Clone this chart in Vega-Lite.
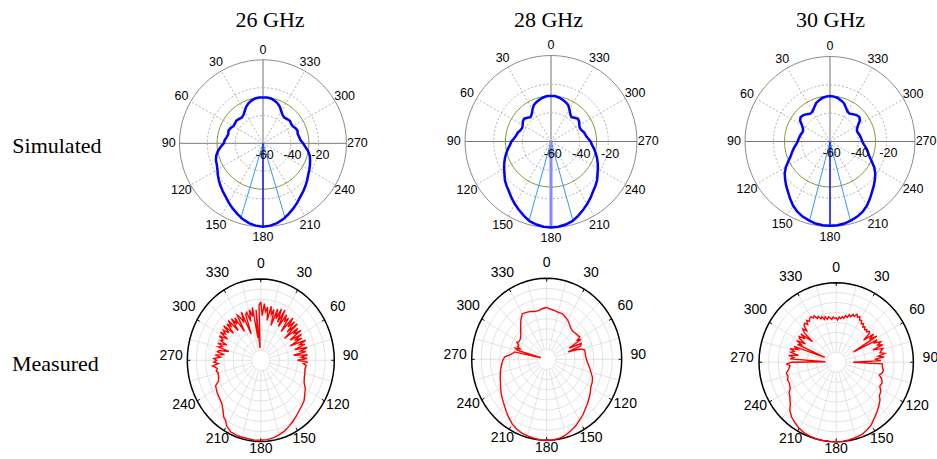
{
"$schema": "https://vega.github.io/schema/vega-lite/v6.json",
"padding": 0,
"spacing": 0,
"bounds": "flush",
"columns": 3,
"config": {"view": {"stroke": null}, "concat": {"spacing": 0}},
"datasets": {
"circ": [{"a":0},{"a":5},{"a":10},{"a":15},{"a":20},{"a":25},{"a":30},{"a":35},{"a":40},{"a":45},{"a":50},{"a":55},{"a":60},{"a":65},{"a":70},{"a":75},{"a":80},{"a":85},{"a":90},{"a":95},{"a":100},{"a":105},{"a":110},{"a":115},{"a":120},{"a":125},{"a":130},{"a":135},{"a":140},{"a":145},{"a":150},{"a":155},{"a":160},{"a":165},{"a":170},{"a":175},{"a":180},{"a":185},{"a":190},{"a":195},{"a":200},{"a":205},{"a":210},{"a":215},{"a":220},{"a":225},{"a":230},{"a":235},{"a":240},{"a":245},{"a":250},{"a":255},{"a":260},{"a":265},{"a":270},{"a":275},{"a":280},{"a":285},{"a":290},{"a":295},{"a":300},{"a":305},{"a":310},{"a":315},{"a":320},{"a":325},{"a":330},{"a":335},{"a":340},{"a":345},{"a":350},{"a":355},{"a":360}],
"lab": [{"a":0},{"a":30},{"a":60},{"a":90},{"a":120},{"a":150},{"a":180},{"a":210},{"a":240},{"a":270},{"a":300},{"a":330}],
"spm": [{"a":0},{"a":15},{"a":30},{"a":45},{"a":60},{"a":75},{"a":90},{"a":105},{"a":120},{"a":135},{"a":150},{"a":165},{"a":180},{"a":195},{"a":210},{"a":225},{"a":240},{"a":255},{"a":270},{"a":285},{"a":300},{"a":315},{"a":330},{"a":345}],
"s26": [{"a":0,"g":-27},{"a":5,"g":-27},{"a":10,"g":-27.3},{"a":15,"g":-28.2},{"a":20,"g":-29.4},{"a":25,"g":-31.2},{"a":30,"g":-33.6},{"a":35,"g":-35.4},{"a":40,"g":-36},{"a":45,"g":-35.4},{"a":50,"g":-34.8},{"a":55,"g":-35.4},{"a":60,"g":-35.4},{"a":65,"g":-34.2},{"a":70,"g":-33.6},{"a":75,"g":-34.2},{"a":80,"g":-33.6},{"a":85,"g":-32.4},{"a":90,"g":-31.8},{"a":95,"g":-29.4},{"a":100,"g":-27},{"a":105,"g":-25.2},{"a":110,"g":-24},{"a":115,"g":-23.4},{"a":120,"g":-22.2},{"a":125,"g":-20.4},{"a":130,"g":-18.6},{"a":135,"g":-16.8},{"a":140,"g":-15},{"a":145,"g":-13.2},{"a":150,"g":-10.8},{"a":155,"g":-8.4},{"a":160,"g":-6},{"a":165,"g":-3.6},{"a":170,"g":-1.8},{"a":175,"g":-0.6},{"a":180,"g":0},{"a":185,"g":-0.6},{"a":190,"g":-1.8},{"a":195,"g":-3.6},{"a":200,"g":-6},{"a":205,"g":-8.4},{"a":210,"g":-10.8},{"a":215,"g":-13.2},{"a":220,"g":-15},{"a":225,"g":-16.8},{"a":230,"g":-18.6},{"a":235,"g":-20.4},{"a":240,"g":-21.6},{"a":245,"g":-22.8},{"a":250,"g":-24},{"a":255,"g":-25.2},{"a":260,"g":-27},{"a":265,"g":-29.4},{"a":270,"g":-31.2},{"a":275,"g":-33},{"a":280,"g":-33.6},{"a":285,"g":-34.2},{"a":290,"g":-33.6},{"a":295,"g":-34.2},{"a":300,"g":-35.4},{"a":305,"g":-35.4},{"a":310,"g":-34.8},{"a":315,"g":-35.4},{"a":320,"g":-36},{"a":325,"g":-35.4},{"a":330,"g":-33.6},{"a":335,"g":-31.2},{"a":340,"g":-29.4},{"a":345,"g":-28.2},{"a":350,"g":-27.3},{"a":355,"g":-27},{"a":360,"g":-27}],
"s28": [{"a":0,"g":-28.2},{"a":5,"g":-28.2},{"a":10,"g":-28.8},{"a":15,"g":-29.7},{"a":20,"g":-30.6},{"a":25,"g":-31.8},{"a":30,"g":-34.2},{"a":35,"g":-36.6},{"a":40,"g":-37.8},{"a":45,"g":-36.6},{"a":50,"g":-35.4},{"a":55,"g":-36},{"a":60,"g":-37.2},{"a":65,"g":-37.8},{"a":70,"g":-37.2},{"a":75,"g":-36},{"a":80,"g":-35.4},{"a":85,"g":-34.2},{"a":90,"g":-32.4},{"a":95,"g":-31.2},{"a":100,"g":-29.4},{"a":105,"g":-27.6},{"a":110,"g":-25.8},{"a":115,"g":-24},{"a":120,"g":-22.2},{"a":125,"g":-20.4},{"a":130,"g":-18},{"a":135,"g":-16.2},{"a":140,"g":-14.4},{"a":145,"g":-12},{"a":150,"g":-9.6},{"a":155,"g":-7.2},{"a":160,"g":-4.8},{"a":165,"g":-2.4},{"a":170,"g":-1.2},{"a":175,"g":-0.3},{"a":180,"g":0},{"a":185,"g":-0.3},{"a":190,"g":-1.2},{"a":195,"g":-2.4},{"a":200,"g":-4.8},{"a":205,"g":-7.2},{"a":210,"g":-9.6},{"a":215,"g":-12},{"a":220,"g":-14.4},{"a":225,"g":-16.2},{"a":230,"g":-18},{"a":235,"g":-20.4},{"a":240,"g":-22.2},{"a":245,"g":-24},{"a":250,"g":-25.8},{"a":255,"g":-27.6},{"a":260,"g":-29.4},{"a":265,"g":-31.2},{"a":270,"g":-32.4},{"a":275,"g":-34.2},{"a":280,"g":-35.4},{"a":285,"g":-36},{"a":290,"g":-37.2},{"a":295,"g":-37.8},{"a":300,"g":-37.2},{"a":305,"g":-36},{"a":310,"g":-35.4},{"a":315,"g":-36.6},{"a":320,"g":-37.8},{"a":325,"g":-36.6},{"a":330,"g":-34.2},{"a":335,"g":-31.8},{"a":340,"g":-30.6},{"a":345,"g":-29.7},{"a":350,"g":-28.8},{"a":355,"g":-28.2},{"a":360,"g":-28.2}],
"s30": [{"a":0,"g":-27.9},{"a":5,"g":-28.2},{"a":10,"g":-28.8},{"a":15,"g":-30},{"a":20,"g":-31.2},{"a":25,"g":-33.6},{"a":30,"g":-35.4},{"a":35,"g":-36},{"a":40,"g":-34.8},{"a":45,"g":-33.6},{"a":50,"g":-33},{"a":55,"g":-34.2},{"a":60,"g":-37.2},{"a":65,"g":-39},{"a":70,"g":-39.6},{"a":75,"g":-39},{"a":80,"g":-38.4},{"a":85,"g":-37.8},{"a":90,"g":-37.2},{"a":95,"g":-36},{"a":100,"g":-34.2},{"a":105,"g":-32.4},{"a":110,"g":-30.6},{"a":115,"g":-27.6},{"a":120,"g":-24},{"a":125,"g":-21},{"a":130,"g":-18.6},{"a":135,"g":-16.2},{"a":140,"g":-13.8},{"a":145,"g":-10.8},{"a":150,"g":-7.8},{"a":155,"g":-5.4},{"a":160,"g":-3.6},{"a":165,"g":-2.4},{"a":170,"g":-1.2},{"a":175,"g":-0.6},{"a":180,"g":-0.6},{"a":185,"g":-0.6},{"a":190,"g":-1.2},{"a":195,"g":-2.4},{"a":200,"g":-3.6},{"a":205,"g":-5.4},{"a":210,"g":-7.8},{"a":215,"g":-10.8},{"a":220,"g":-13.8},{"a":225,"g":-16.2},{"a":230,"g":-18.6},{"a":235,"g":-21},{"a":240,"g":-24},{"a":245,"g":-27.6},{"a":250,"g":-30.6},{"a":255,"g":-32.4},{"a":260,"g":-34.2},{"a":265,"g":-36},{"a":270,"g":-37.2},{"a":275,"g":-37.8},{"a":280,"g":-38.4},{"a":285,"g":-39},{"a":290,"g":-39.6},{"a":295,"g":-39},{"a":300,"g":-37.2},{"a":305,"g":-34.2},{"a":310,"g":-33},{"a":315,"g":-33.6},{"a":320,"g":-34.8},{"a":325,"g":-36},{"a":330,"g":-35.4},{"a":335,"g":-33.6},{"a":340,"g":-31.2},{"a":345,"g":-30},{"a":350,"g":-28.8},{"a":355,"g":-28.2},{"a":360,"g":-27.9}],
"m26": [{"a":0,"g":-11.2},{"a":2,"g":-18},{"a":4,"g":-12},{"a":6,"g":-16},{"a":8,"g":-13.6},{"a":10,"g":-20},{"a":12,"g":-12.8},{"a":14,"g":-16.8},{"a":16,"g":-14},{"a":18,"g":-22},{"a":20,"g":-13.2},{"a":22,"g":-18},{"a":24,"g":-12.4},{"a":26,"g":-19.2},{"a":28,"g":-12},{"a":30,"g":-20.8},{"a":32,"g":-13.6},{"a":34,"g":-16.8},{"a":36,"g":-14.4},{"a":38,"g":-22},{"a":40,"g":-12.8},{"a":42,"g":-18},{"a":44,"g":-13.6},{"a":46,"g":-20},{"a":48,"g":-13.2},{"a":50,"g":-23.2},{"a":52,"g":-14.4},{"a":54,"g":-18},{"a":56,"g":-13.6},{"a":58,"g":-21.2},{"a":60,"g":-14.4},{"a":62,"g":-19.2},{"a":64,"g":-15.2},{"a":66,"g":-22.4},{"a":68,"g":-13.6},{"a":70,"g":-17.6},{"a":72,"g":-14.8},{"a":74,"g":-20.8},{"a":76,"g":-14},{"a":78,"g":-18},{"a":80,"g":-15.2},{"a":82,"g":-22},{"a":84,"g":-14.4},{"a":86,"g":-18},{"a":88,"g":-14.8},{"a":90,"g":-20},{"a":92,"g":-14.4},{"a":94,"g":-16.8},{"a":96,"g":-15.2},{"a":100,"g":-15.6},{"a":105,"g":-15.2},{"a":110,"g":-14.8},{"a":115,"g":-14},{"a":120,"g":-12},{"a":125,"g":-10.8},{"a":130,"g":-9.2},{"a":135,"g":-8.4},{"a":140,"g":-7.6},{"a":145,"g":-6.4},{"a":150,"g":-5.2},{"a":155,"g":-4},{"a":160,"g":-2.8},{"a":165,"g":-2},{"a":170,"g":-1.2},{"a":175,"g":-0.8},{"a":180,"g":-0.8},{"a":185,"g":-0.6},{"a":190,"g":-0.8},{"a":195,"g":-0.8},{"a":200,"g":-0.8},{"a":205,"g":-1.2},{"a":210,"g":-2.8},{"a":213,"g":-4.8},{"a":216,"g":-5.6},{"a":220,"g":-8},{"a":225,"g":-10},{"a":230,"g":-10.8},{"a":235,"g":-11.2},{"a":240,"g":-12},{"a":243,"g":-12.4},{"a":246,"g":-14.8},{"a":250,"g":-15.6},{"a":255,"g":-16},{"a":258,"g":-15.2},{"a":260,"g":-16},{"a":262,"g":-15.2},{"a":264,"g":-13.6},{"a":266,"g":-16.8},{"a":268,"g":-14.4},{"a":270,"g":-16},{"a":272,"g":-14.4},{"a":274,"g":-18},{"a":276,"g":-15.2},{"a":278,"g":-20},{"a":280,"g":-16},{"a":282,"g":-16.8},{"a":284,"g":-22},{"a":286,"g":-16},{"a":288,"g":-18},{"a":290,"g":-15.2},{"a":292,"g":-20},{"a":294,"g":-16},{"a":296,"g":-17.2},{"a":298,"g":-14.4},{"a":300,"g":-19.2},{"a":302,"g":-14},{"a":304,"g":-16.8},{"a":306,"g":-14.8},{"a":308,"g":-18},{"a":310,"g":-13.6},{"a":312,"g":-20},{"a":314,"g":-14.4},{"a":316,"g":-16.8},{"a":318,"g":-13.6},{"a":320,"g":-20.8},{"a":322,"g":-14},{"a":324,"g":-18},{"a":326,"g":-14.8},{"a":328,"g":-23.2},{"a":330,"g":-14.4},{"a":332,"g":-16},{"a":334,"g":-19.2},{"a":336,"g":-14},{"a":338,"g":-26},{"a":340,"g":-16},{"a":342,"g":-15.2},{"a":344,"g":-20},{"a":346,"g":-14.4},{"a":348,"g":-18},{"a":350,"g":-13.6},{"a":352,"g":-28.8},{"a":354,"g":-15.2},{"a":356,"g":-34},{"a":358,"g":-12.8},{"a":360,"g":-11.2}],
"m28": [{"a":0,"g":-14.4},{"a":5,"g":-15.2},{"a":10,"g":-15.6},{"a":15,"g":-16},{"a":20,"g":-16},{"a":25,"g":-16.8},{"a":30,"g":-17.6},{"a":35,"g":-18.8},{"a":40,"g":-20},{"a":45,"g":-20.4},{"a":50,"g":-20},{"a":55,"g":-19.6},{"a":58,"g":-19.2},{"a":60,"g":-21.2},{"a":62,"g":-19.2},{"a":65,"g":-26.8},{"a":67,"g":-20},{"a":70,"g":-20.8},{"a":72,"g":-28},{"a":74,"g":-21.6},{"a":77,"g":-19.2},{"a":80,"g":-19.2},{"a":85,"g":-19.2},{"a":90,"g":-18.8},{"a":95,"g":-18},{"a":100,"g":-16.8},{"a":105,"g":-15.6},{"a":110,"g":-14},{"a":115,"g":-13.2},{"a":120,"g":-12.8},{"a":125,"g":-11.6},{"a":130,"g":-10.4},{"a":135,"g":-9.2},{"a":140,"g":-8},{"a":145,"g":-6.4},{"a":150,"g":-5.2},{"a":155,"g":-3.6},{"a":160,"g":-2.4},{"a":165,"g":-1.2},{"a":170,"g":-0.4},{"a":175,"g":0},{"a":180,"g":0},{"a":185,"g":0},{"a":190,"g":-0.4},{"a":195,"g":-0.8},{"a":200,"g":-1.2},{"a":205,"g":-2},{"a":210,"g":-3.2},{"a":215,"g":-4.8},{"a":220,"g":-6.4},{"a":225,"g":-8},{"a":230,"g":-9.2},{"a":235,"g":-10.4},{"a":240,"g":-11.6},{"a":245,"g":-12.8},{"a":250,"g":-13.6},{"a":255,"g":-14.4},{"a":260,"g":-15.2},{"a":265,"g":-16},{"a":270,"g":-16.8},{"a":273,"g":-17.6},{"a":276,"g":-20},{"a":279,"g":-21.6},{"a":282,"g":-22.4},{"a":284,"g":-36.8},{"a":286,"g":-24},{"a":288,"g":-22.4},{"a":290,"g":-24.8},{"a":292,"g":-23.2},{"a":295,"g":-23.6},{"a":298,"g":-22},{"a":300,"g":-22.8},{"a":305,"g":-22.8},{"a":310,"g":-22},{"a":315,"g":-20.4},{"a":320,"g":-18.4},{"a":325,"g":-16},{"a":330,"g":-14},{"a":335,"g":-14.4},{"a":340,"g":-14.8},{"a":345,"g":-15.6},{"a":350,"g":-15.6},{"a":355,"g":-14.8},{"a":360,"g":-14.4}],
"m30": [{"a":0,"g":-17.6},{"a":2,"g":-18.8},{"a":4,"g":-17.2},{"a":6,"g":-18},{"a":8,"g":-16.8},{"a":10,"g":-17.6},{"a":12,"g":-16},{"a":14,"g":-16.8},{"a":16,"g":-15.2},{"a":18,"g":-16},{"a":20,"g":-14.4},{"a":22,"g":-15.2},{"a":24,"g":-13.6},{"a":26,"g":-14.8},{"a":28,"g":-14},{"a":30,"g":-15.6},{"a":32,"g":-15.2},{"a":34,"g":-16.8},{"a":36,"g":-16},{"a":38,"g":-17.6},{"a":40,"g":-16.8},{"a":42,"g":-18},{"a":44,"g":-17.2},{"a":46,"g":-18},{"a":48,"g":-16.8},{"a":50,"g":-17.6},{"a":52,"g":-22},{"a":54,"g":-16},{"a":56,"g":-19.2},{"a":58,"g":-15.2},{"a":60,"g":-29.6},{"a":62,"g":-16},{"a":64,"g":-18},{"a":66,"g":-14.8},{"a":68,"g":-16.8},{"a":70,"g":-14.4},{"a":72,"g":-20},{"a":74,"g":-14.8},{"a":76,"g":-16},{"a":78,"g":-16.8},{"a":80,"g":-14.4},{"a":82,"g":-18},{"a":84,"g":-15.2},{"a":86,"g":-20},{"a":88,"g":-16.8},{"a":90,"g":-31.2},{"a":92,"g":-16},{"a":95,"g":-16},{"a":100,"g":-15.2},{"a":103,"g":-15.6},{"a":106,"g":-16.8},{"a":110,"g":-14.8},{"a":114,"g":-14},{"a":118,"g":-14.4},{"a":122,"g":-12.8},{"a":124,"g":-12.4},{"a":127,"g":-12},{"a":130,"g":-10.4},{"a":135,"g":-8.8},{"a":140,"g":-7.2},{"a":145,"g":-5.6},{"a":150,"g":-3.6},{"a":155,"g":-2.4},{"a":160,"g":-1.2},{"a":165,"g":-0.8},{"a":170,"g":-0.4},{"a":175,"g":0},{"a":180,"g":0},{"a":185,"g":0},{"a":190,"g":0},{"a":195,"g":0},{"a":200,"g":-0.4},{"a":205,"g":-0.8},{"a":210,"g":-1.6},{"a":215,"g":-2.8},{"a":220,"g":-4},{"a":225,"g":-6},{"a":228,"g":-8},{"a":231,"g":-9.2},{"a":234,"g":-10.4},{"a":238,"g":-11.2},{"a":241,"g":-12.8},{"a":244,"g":-13.2},{"a":247,"g":-13.6},{"a":250,"g":-13.2},{"a":254,"g":-14},{"a":258,"g":-13.6},{"a":262,"g":-15.2},{"a":266,"g":-16},{"a":268,"g":-14.4},{"a":270,"g":-16.8},{"a":272,"g":-34.4},{"a":274,"g":-16},{"a":276,"g":-18},{"a":278,"g":-15.2},{"a":280,"g":-20},{"a":282,"g":-16},{"a":284,"g":-17.6},{"a":286,"g":-15.2},{"a":288,"g":-19.2},{"a":290,"g":-16.8},{"a":292,"g":-33.6},{"a":294,"g":-18},{"a":296,"g":-20},{"a":298,"g":-16.8},{"a":300,"g":-21.6},{"a":302,"g":-17.6},{"a":304,"g":-16.8},{"a":306,"g":-20},{"a":308,"g":-16.8},{"a":310,"g":-24},{"a":312,"g":-17.6},{"a":314,"g":-16},{"a":316,"g":-18},{"a":318,"g":-15.2},{"a":320,"g":-14.4},{"a":322,"g":-16},{"a":324,"g":-14},{"a":326,"g":-15.2},{"a":328,"g":-14},{"a":330,"g":-13.6},{"a":332,"g":-14.8},{"a":334,"g":-14},{"a":336,"g":-16},{"a":338,"g":-15.2},{"a":340,"g":-16.8},{"a":342,"g":-16},{"a":344,"g":-17.6},{"a":346,"g":-16.4},{"a":348,"g":-18},{"a":350,"g":-16.8},{"a":352,"g":-17.6},{"a":354,"g":-18.4},{"a":356,"g":-17.2},{"a":358,"g":-18},{"a":360,"g":-17.6}]
},
"concat": [
{"width": 405, "height": 250,
 "encoding": {"x": {"field": "x", "type": "quantitative", "axis": null, "scale": {"domain": [-3.1497, 1.7006], "nice": false, "zero": false}},
              "y": {"field": "y", "type": "quantitative", "axis": null, "scale": {"domain": [-1.2778, 1.7162], "nice": false, "zero": false}}},
 "layer": [
  {"data": {"name": "lab"}, "transform": [{"filter": "datum.a % 90 != 0"}, {"calculate": "0", "as": "x"}, {"calculate": "0", "as": "y"}, {"calculate": "-sin(datum.a*PI/180)", "as": "x2"}, {"calculate": "cos(datum.a*PI/180)", "as": "y2"}], "mark": {"type": "rule", "color": "#a0a0a0", "strokeWidth": 0.8, "strokeDash": [2, 2]}, "encoding": {"x2": {"field": "x2"}, "y2": {"field": "y2"}}},
  {"data": {"name": "circ"}, "transform": [{"calculate": "[-40, -20]", "as": "lv"}, {"flatten": ["lv"]}, {"calculate": "(datum.lv+60)/60*sin(datum.a*PI/180)", "as": "x"}, {"calculate": "(datum.lv+60)/60*cos(datum.a*PI/180)", "as": "y"}], "mark": {"type": "line", "color": "#a0a0a0", "strokeWidth": 0.8, "strokeDash": [2, 2]}, "encoding": {"detail": {"field": "lv", "type": "nominal"}, "order": {"field": "a", "type": "quantitative"}}},
  {"data": {"name": "lab"}, "transform": [{"filter": "datum.a % 90 == 0 && datum.a != 0"}, {"calculate": "0", "as": "x"}, {"calculate": "0", "as": "y"}, {"calculate": "-sin(datum.a*PI/180)", "as": "x2"}, {"calculate": "cos(datum.a*PI/180)", "as": "y2"}], "mark": {"type": "rule", "color": "#7a7a7a", "strokeWidth": 1}, "encoding": {"x2": {"field": "x2"}, "y2": {"field": "y2"}}},
  {"data": {"name": "lab"}, "transform": [{"filter": "datum.a == 0"}, {"calculate": "0", "as": "x"}, {"calculate": "0", "as": "y"}, {"calculate": "-sin(datum.a*PI/180)", "as": "x2"}, {"calculate": "cos(datum.a*PI/180)", "as": "y2"}], "mark": {"type": "rule", "color": "#b8b8b8", "strokeWidth": 2}, "encoding": {"x2": {"field": "x2"}, "y2": {"field": "y2"}}},
  {"data": {"name": "circ"}, "transform": [{"calculate": "sin(datum.a*PI/180)", "as": "x"}, {"calculate": "cos(datum.a*PI/180)", "as": "y"}], "mark": {"type": "line", "color": "#8c8c8c", "strokeWidth": 1}, "encoding": {"order": {"field": "a", "type": "quantitative"}}},
  {"data": {"name": "circ"}, "transform": [{"calculate": "(-27+60)/60*sin(datum.a*PI/180)", "as": "x"}, {"calculate": "(-27+60)/60*cos(datum.a*PI/180)", "as": "y"}], "mark": {"type": "line", "color": "#7f9a3c", "strokeWidth": 1}, "encoding": {"order": {"field": "a", "type": "quantitative"}}},
  {"data": {"values": [{"a": 163.5, "g": -3}, {"a": 196.5, "g": -3}]}, "transform": [{"calculate": "0", "as": "x"}, {"calculate": "0", "as": "y"}, {"calculate": "-(datum.g+60)/60*sin(datum.a*PI/180)", "as": "x2"}, {"calculate": "(datum.g+60)/60*cos(datum.a*PI/180)", "as": "y2"}], "mark": {"type": "rule", "color": "#3399ff", "strokeWidth": 1}, "encoding": {"x2": {"field": "x2"}, "y2": {"field": "y2"}}},
  {"data": {"values": [{"a": 180, "g": 0}]}, "transform": [{"calculate": "0", "as": "x"}, {"calculate": "0", "as": "y"}, {"calculate": "-(datum.g+60)/60*sin(datum.a*PI/180)", "as": "x2"}, {"calculate": "(datum.g+60)/60*cos(datum.a*PI/180)", "as": "y2"}], "mark": {"type": "rule", "color": "#1a1aff", "strokeWidth": 1.5}, "encoding": {"x2": {"field": "x2"}, "y2": {"field": "y2"}}},
  {"data": {"name": "s26"}, "transform": [{"calculate": "(datum.g+60)/60", "as": "r"}, {"calculate": "-datum.r*sin(datum.a*PI/180)", "as": "x"}, {"calculate": "datum.r*cos(datum.a*PI/180)", "as": "y"}], "mark": {"type": "line", "color": "#0000ff", "strokeWidth": 2.5}, "encoding": {"order": {"field": "a", "type": "quantitative"}}},
  {"data": {"name": "lab"}, "transform": [{"calculate": "1.12+0.01*abs(sin(datum.a*PI/180))", "as": "r"}, {"calculate": "-datum.r*sin(datum.a*PI/180)", "as": "x"}, {"calculate": "datum.r*cos(datum.a*PI/180)", "as": "y"}], "mark": {"type": "text", "font": "Liberation Sans", "fontSize": 12.5, "color": "#000000", "baseline": "middle"}, "encoding": {"text": {"field": "a", "type": "quantitative", "format": "d"}}},
  {"data": {"values": [{"t": "-60", "v": -60}, {"t": "-40", "v": -40}, {"t": "-20", "v": -20}]}, "transform": [{"calculate": "(datum.v+60)/60+0.02", "as": "x"}, {"calculate": "-0.14", "as": "y"}], "mark": {"type": "text", "font": "Liberation Sans", "fontSize": 12.5, "color": "#000000", "baseline": "middle"}, "encoding": {"text": {"field": "t", "type": "nominal"}}},
  {"data": {"values": [{"t": "26 GHz"}]}, "transform": [{"calculate": "0.084", "as": "x"}, {"calculate": "1.3964", "as": "y"}], "mark": {"type": "text", "font": "Liberation Serif", "fontSize": 22, "color": "#000000", "baseline": "alphabetic"}, "encoding": {"text": {"field": "t", "type": "nominal"}}},
  {"data": {"values": [{"t": "Simulated"}]}, "transform": [{"calculate": "-3.0024", "as": "x"}, {"calculate": "-0.1126", "as": "y"}], "mark": {"type": "text", "font": "Liberation Serif", "fontSize": 22, "color": "#000000", "baseline": "alphabetic", "align": "left"}, "encoding": {"text": {"field": "t", "type": "nominal"}}}
 ]},
{"width": 285, "height": 250,
 "encoding": {"x": {"field": "x", "type": "quantitative", "axis": null, "scale": {"domain": [-1.6977, 1.6163], "nice": false, "zero": false}},
              "y": {"field": "y", "type": "quantitative", "axis": null, "scale": {"domain": [-1.2616, 1.6453], "nice": false, "zero": false}}},
 "layer": [
  {"data": {"name": "lab"}, "transform": [{"filter": "datum.a % 90 != 0"}, {"calculate": "0", "as": "x"}, {"calculate": "0", "as": "y"}, {"calculate": "-sin(datum.a*PI/180)", "as": "x2"}, {"calculate": "cos(datum.a*PI/180)", "as": "y2"}], "mark": {"type": "rule", "color": "#a0a0a0", "strokeWidth": 0.8, "strokeDash": [2, 2]}, "encoding": {"x2": {"field": "x2"}, "y2": {"field": "y2"}}},
  {"data": {"name": "circ"}, "transform": [{"calculate": "[-40, -20]", "as": "lv"}, {"flatten": ["lv"]}, {"calculate": "(datum.lv+60)/60*sin(datum.a*PI/180)", "as": "x"}, {"calculate": "(datum.lv+60)/60*cos(datum.a*PI/180)", "as": "y"}], "mark": {"type": "line", "color": "#a0a0a0", "strokeWidth": 0.8, "strokeDash": [2, 2]}, "encoding": {"detail": {"field": "lv", "type": "nominal"}, "order": {"field": "a", "type": "quantitative"}}},
  {"data": {"name": "lab"}, "transform": [{"filter": "datum.a % 90 == 0 && datum.a != 0"}, {"calculate": "0", "as": "x"}, {"calculate": "0", "as": "y"}, {"calculate": "-sin(datum.a*PI/180)", "as": "x2"}, {"calculate": "cos(datum.a*PI/180)", "as": "y2"}], "mark": {"type": "rule", "color": "#7a7a7a", "strokeWidth": 1}, "encoding": {"x2": {"field": "x2"}, "y2": {"field": "y2"}}},
  {"data": {"name": "lab"}, "transform": [{"filter": "datum.a == 0"}, {"calculate": "0", "as": "x"}, {"calculate": "0", "as": "y"}, {"calculate": "-sin(datum.a*PI/180)", "as": "x2"}, {"calculate": "cos(datum.a*PI/180)", "as": "y2"}], "mark": {"type": "rule", "color": "#b8b8b8", "strokeWidth": 2}, "encoding": {"x2": {"field": "x2"}, "y2": {"field": "y2"}}},
  {"data": {"name": "circ"}, "transform": [{"calculate": "sin(datum.a*PI/180)", "as": "x"}, {"calculate": "cos(datum.a*PI/180)", "as": "y"}], "mark": {"type": "line", "color": "#8c8c8c", "strokeWidth": 1}, "encoding": {"order": {"field": "a", "type": "quantitative"}}},
  {"data": {"name": "circ"}, "transform": [{"calculate": "(-28.2+60)/60*sin(datum.a*PI/180)", "as": "x"}, {"calculate": "(-28.2+60)/60*cos(datum.a*PI/180)", "as": "y"}], "mark": {"type": "line", "color": "#7f9a3c", "strokeWidth": 1}, "encoding": {"order": {"field": "a", "type": "quantitative"}}},
  {"data": {"values": [{"a": 164.5, "g": -2.4}, {"a": 195.5, "g": -2.4}]}, "transform": [{"calculate": "0", "as": "x"}, {"calculate": "0", "as": "y"}, {"calculate": "-(datum.g+60)/60*sin(datum.a*PI/180)", "as": "x2"}, {"calculate": "(datum.g+60)/60*cos(datum.a*PI/180)", "as": "y2"}], "mark": {"type": "rule", "color": "#3399ff", "strokeWidth": 1}, "encoding": {"x2": {"field": "x2"}, "y2": {"field": "y2"}}},
  {"data": {"values": [{"a": 180, "g": 0}]}, "transform": [{"calculate": "0", "as": "x"}, {"calculate": "0", "as": "y"}, {"calculate": "-(datum.g+60)/60*sin(datum.a*PI/180)", "as": "x2"}, {"calculate": "(datum.g+60)/60*cos(datum.a*PI/180)", "as": "y2"}], "mark": {"type": "rule", "color": "#8888ff", "strokeWidth": 3}, "encoding": {"x2": {"field": "x2"}, "y2": {"field": "y2"}}},
  {"data": {"name": "s28"}, "transform": [{"calculate": "(datum.g+60)/60", "as": "r"}, {"calculate": "-datum.r*sin(datum.a*PI/180)", "as": "x"}, {"calculate": "datum.r*cos(datum.a*PI/180)", "as": "y"}], "mark": {"type": "line", "color": "#0000ff", "strokeWidth": 2.5}, "encoding": {"order": {"field": "a", "type": "quantitative"}}},
  {"data": {"name": "lab"}, "transform": [{"calculate": "1.12+0.01*abs(sin(datum.a*PI/180))", "as": "r"}, {"calculate": "-datum.r*sin(datum.a*PI/180)", "as": "x"}, {"calculate": "datum.r*cos(datum.a*PI/180)", "as": "y"}], "mark": {"type": "text", "font": "Liberation Sans", "fontSize": 12.5, "color": "#000000", "baseline": "middle"}, "encoding": {"text": {"field": "a", "type": "quantitative", "format": "d"}}},
  {"data": {"values": [{"t": "-60", "v": -60}, {"t": "-40", "v": -40}, {"t": "-20", "v": -20}]}, "transform": [{"calculate": "(datum.v+60)/60+0.02", "as": "x"}, {"calculate": "-0.14", "as": "y"}], "mark": {"type": "text", "font": "Liberation Sans", "fontSize": 12.5, "color": "#000000", "baseline": "middle"}, "encoding": {"text": {"field": "t", "type": "nominal"}}},
  {"data": {"values": [{"t": "28 GHz"}]}, "transform": [{"calculate": "-0.03", "as": "x"}, {"calculate": "1.335", "as": "y"}], "mark": {"type": "text", "font": "Liberation Serif", "fontSize": 22, "color": "#000000", "baseline": "alphabetic"}, "encoding": {"text": {"field": "t", "type": "nominal"}}}
 ]},
{"width": 247, "height": 250,
 "encoding": {"x": {"field": "x", "type": "quantitative", "axis": null, "scale": {"domain": [-1.6471, 1.2588], "nice": false, "zero": false}},
              "y": {"field": "y", "type": "quantitative", "axis": null, "scale": {"domain": [-1.2765, 1.6647], "nice": false, "zero": false}}},
 "layer": [
  {"data": {"name": "lab"}, "transform": [{"filter": "datum.a % 90 != 0"}, {"calculate": "0", "as": "x"}, {"calculate": "0", "as": "y"}, {"calculate": "-sin(datum.a*PI/180)", "as": "x2"}, {"calculate": "cos(datum.a*PI/180)", "as": "y2"}], "mark": {"type": "rule", "color": "#a0a0a0", "strokeWidth": 0.8, "strokeDash": [2, 2]}, "encoding": {"x2": {"field": "x2"}, "y2": {"field": "y2"}}},
  {"data": {"name": "circ"}, "transform": [{"calculate": "[-40, -20]", "as": "lv"}, {"flatten": ["lv"]}, {"calculate": "(datum.lv+60)/60*sin(datum.a*PI/180)", "as": "x"}, {"calculate": "(datum.lv+60)/60*cos(datum.a*PI/180)", "as": "y"}], "mark": {"type": "line", "color": "#a0a0a0", "strokeWidth": 0.8, "strokeDash": [2, 2]}, "encoding": {"detail": {"field": "lv", "type": "nominal"}, "order": {"field": "a", "type": "quantitative"}}},
  {"data": {"name": "lab"}, "transform": [{"filter": "datum.a % 90 == 0 && datum.a != 0"}, {"calculate": "0", "as": "x"}, {"calculate": "0", "as": "y"}, {"calculate": "-sin(datum.a*PI/180)", "as": "x2"}, {"calculate": "cos(datum.a*PI/180)", "as": "y2"}], "mark": {"type": "rule", "color": "#7a7a7a", "strokeWidth": 1}, "encoding": {"x2": {"field": "x2"}, "y2": {"field": "y2"}}},
  {"data": {"name": "lab"}, "transform": [{"filter": "datum.a == 0"}, {"calculate": "0", "as": "x"}, {"calculate": "0", "as": "y"}, {"calculate": "-sin(datum.a*PI/180)", "as": "x2"}, {"calculate": "cos(datum.a*PI/180)", "as": "y2"}], "mark": {"type": "rule", "color": "#b8b8b8", "strokeWidth": 2}, "encoding": {"x2": {"field": "x2"}, "y2": {"field": "y2"}}},
  {"data": {"name": "circ"}, "transform": [{"calculate": "sin(datum.a*PI/180)", "as": "x"}, {"calculate": "cos(datum.a*PI/180)", "as": "y"}], "mark": {"type": "line", "color": "#8c8c8c", "strokeWidth": 1}, "encoding": {"order": {"field": "a", "type": "quantitative"}}},
  {"data": {"name": "circ"}, "transform": [{"calculate": "(-27.9+60)/60*sin(datum.a*PI/180)", "as": "x"}, {"calculate": "(-27.9+60)/60*cos(datum.a*PI/180)", "as": "y"}], "mark": {"type": "line", "color": "#7f9a3c", "strokeWidth": 1}, "encoding": {"order": {"field": "a", "type": "quantitative"}}},
  {"data": {"values": [{"a": 165.5, "g": -2}, {"a": 194.5, "g": -2}]}, "transform": [{"calculate": "0", "as": "x"}, {"calculate": "0", "as": "y"}, {"calculate": "-(datum.g+60)/60*sin(datum.a*PI/180)", "as": "x2"}, {"calculate": "(datum.g+60)/60*cos(datum.a*PI/180)", "as": "y2"}], "mark": {"type": "rule", "color": "#3399ff", "strokeWidth": 1}, "encoding": {"x2": {"field": "x2"}, "y2": {"field": "y2"}}},
  {"data": {"values": [{"a": 180, "g": 0}]}, "transform": [{"calculate": "0", "as": "x"}, {"calculate": "0", "as": "y"}, {"calculate": "-(datum.g+60)/60*sin(datum.a*PI/180)", "as": "x2"}, {"calculate": "(datum.g+60)/60*cos(datum.a*PI/180)", "as": "y2"}], "mark": {"type": "rule", "color": "#1a1aff", "strokeWidth": 1.5}, "encoding": {"x2": {"field": "x2"}, "y2": {"field": "y2"}}},
  {"data": {"name": "s30"}, "transform": [{"calculate": "(datum.g+60)/60", "as": "r"}, {"calculate": "-datum.r*sin(datum.a*PI/180)", "as": "x"}, {"calculate": "datum.r*cos(datum.a*PI/180)", "as": "y"}], "mark": {"type": "line", "color": "#0000ff", "strokeWidth": 2.5}, "encoding": {"order": {"field": "a", "type": "quantitative"}}},
  {"data": {"name": "lab"}, "transform": [{"calculate": "1.12+0.01*abs(sin(datum.a*PI/180))", "as": "r"}, {"calculate": "-datum.r*sin(datum.a*PI/180)", "as": "x"}, {"calculate": "datum.r*cos(datum.a*PI/180)", "as": "y"}], "mark": {"type": "text", "font": "Liberation Sans", "fontSize": 12.5, "color": "#000000", "baseline": "middle"}, "encoding": {"text": {"field": "a", "type": "quantitative", "format": "d"}}},
  {"data": {"values": [{"t": "-60", "v": -60}, {"t": "-40", "v": -40}, {"t": "-20", "v": -20}]}, "transform": [{"calculate": "(datum.v+60)/60+0.02", "as": "x"}, {"calculate": "-0.14", "as": "y"}], "mark": {"type": "text", "font": "Liberation Sans", "fontSize": 12.5, "color": "#000000", "baseline": "middle"}, "encoding": {"text": {"field": "t", "type": "nominal"}}},
  {"data": {"values": [{"t": "30 GHz"}]}, "transform": [{"calculate": "0.006", "as": "x"}, {"calculate": "1.3506", "as": "y"}], "mark": {"type": "text", "font": "Liberation Serif", "fontSize": 22, "color": "#000000", "baseline": "alphabetic"}, "encoding": {"text": {"field": "t", "type": "nominal"}}}
 ]},
{"width": 405, "height": 209,
 "encoding": {"x": {"field": "x", "type": "quantitative", "axis": null, "scale": {"domain": [-3.5483, 1.9619], "nice": false, "zero": false}},
              "y": {"field": "y", "type": "quantitative", "axis": null, "scale": {"domain": [-1.2140, 1.3567], "nice": false, "zero": false}}},
 "layer": [
  {"data": {"name": "circ"}, "transform": [{"calculate": "[-35, -30, -25, -20, -15, -10, -5]", "as": "lv"}, {"flatten": ["lv"]}, {"calculate": "(datum.lv+40)/40*sin(datum.a*PI/180)", "as": "x"}, {"calculate": "(datum.lv+40)/40*cos(datum.a*PI/180)", "as": "y"}], "mark": {"type": "line", "color": "#dcdcdc", "strokeWidth": 0.8}, "encoding": {"detail": {"field": "lv", "type": "nominal"}, "order": {"field": "a", "type": "quantitative"}}},
  {"data": {"name": "spm"}, "transform": [{"calculate": "0.125*sin(datum.a*PI/180)", "as": "x"}, {"calculate": "0.125*cos(datum.a*PI/180)", "as": "y"}, {"calculate": "sin(datum.a*PI/180)", "as": "x2"}, {"calculate": "cos(datum.a*PI/180)", "as": "y2"}], "mark": {"type": "rule", "color": "#dcdcdc", "strokeWidth": 0.8}, "encoding": {"x2": {"field": "x2"}, "y2": {"field": "y2"}}},
  {"data": {"name": "circ"}, "transform": [{"calculate": "sin(datum.a*PI/180)", "as": "x"}, {"calculate": "cos(datum.a*PI/180)", "as": "y"}], "mark": {"type": "line", "color": "#000000", "strokeWidth": 1.5}, "encoding": {"order": {"field": "a", "type": "quantitative"}}},
  {"data": {"name": "lab"}, "transform": [{"calculate": "0.96*sin(datum.a*PI/180)", "as": "x"}, {"calculate": "0.96*cos(datum.a*PI/180)", "as": "y"}, {"calculate": "sin(datum.a*PI/180)", "as": "x2"}, {"calculate": "cos(datum.a*PI/180)", "as": "y2"}], "mark": {"type": "rule", "color": "#000000", "strokeWidth": 1}, "encoding": {"x2": {"field": "x2"}, "y2": {"field": "y2"}}},
  {"data": {"name": "m26"}, "transform": [{"calculate": "(datum.g+40)/40", "as": "r"}, {"calculate": "datum.r*sin(datum.a*PI/180)", "as": "x"}, {"calculate": "datum.r*cos(datum.a*PI/180)", "as": "y"}], "mark": {"type": "line", "color": "#ff0000", "strokeWidth": 1.4}, "encoding": {"order": {"field": "a", "type": "quantitative"}}},
  {"data": {"name": "lab"}, "transform": [{"calculate": "1.14+0.08*abs(sin(datum.a*PI/180))", "as": "r"}, {"calculate": "datum.r*sin(datum.a*PI/180)", "as": "x"}, {"calculate": "datum.r*cos(datum.a*PI/180)", "as": "y"}], "mark": {"type": "text", "font": "Liberation Sans", "fontSize": 14, "color": "#000000", "baseline": "middle", "dy": -4}, "encoding": {"text": {"field": "a", "type": "quantitative", "format": "d"}}},
  {"data": {"values": [{"t": "Measured"}]}, "transform": [{"calculate": "-3.385", "as": "x"}, {"calculate": "-0.1316", "as": "y"}], "mark": {"type": "text", "font": "Liberation Serif", "fontSize": 22, "color": "#000000", "baseline": "alphabetic", "align": "left"}, "encoding": {"text": {"field": "t", "type": "nominal"}}}
 ]},
{"width": 285, "height": 209,
 "encoding": {"x": {"field": "x", "type": "quantitative", "axis": null, "scale": {"domain": [-1.8893, 1.9107], "nice": false, "zero": false}},
              "y": {"field": "y", "type": "quantitative", "axis": null, "scale": {"domain": [-1.2309, 1.3494], "nice": false, "zero": false}}},
 "layer": [
  {"data": {"name": "circ"}, "transform": [{"calculate": "[-35, -30, -25, -20, -15, -10, -5]", "as": "lv"}, {"flatten": ["lv"]}, {"calculate": "(datum.lv+40)/40*sin(datum.a*PI/180)", "as": "x"}, {"calculate": "(datum.lv+40)/40*cos(datum.a*PI/180)", "as": "y"}], "mark": {"type": "line", "color": "#dcdcdc", "strokeWidth": 0.8}, "encoding": {"detail": {"field": "lv", "type": "nominal"}, "order": {"field": "a", "type": "quantitative"}}},
  {"data": {"name": "spm"}, "transform": [{"calculate": "0.125*sin(datum.a*PI/180)", "as": "x"}, {"calculate": "0.125*cos(datum.a*PI/180)", "as": "y"}, {"calculate": "sin(datum.a*PI/180)", "as": "x2"}, {"calculate": "cos(datum.a*PI/180)", "as": "y2"}], "mark": {"type": "rule", "color": "#dcdcdc", "strokeWidth": 0.8}, "encoding": {"x2": {"field": "x2"}, "y2": {"field": "y2"}}},
  {"data": {"name": "circ"}, "transform": [{"calculate": "sin(datum.a*PI/180)", "as": "x"}, {"calculate": "cos(datum.a*PI/180)", "as": "y"}], "mark": {"type": "line", "color": "#000000", "strokeWidth": 1.5}, "encoding": {"order": {"field": "a", "type": "quantitative"}}},
  {"data": {"name": "lab"}, "transform": [{"calculate": "0.96*sin(datum.a*PI/180)", "as": "x"}, {"calculate": "0.96*cos(datum.a*PI/180)", "as": "y"}, {"calculate": "sin(datum.a*PI/180)", "as": "x2"}, {"calculate": "cos(datum.a*PI/180)", "as": "y2"}], "mark": {"type": "rule", "color": "#000000", "strokeWidth": 1}, "encoding": {"x2": {"field": "x2"}, "y2": {"field": "y2"}}},
  {"data": {"name": "m28"}, "transform": [{"calculate": "(datum.g+40)/40", "as": "r"}, {"calculate": "datum.r*sin(datum.a*PI/180)", "as": "x"}, {"calculate": "datum.r*cos(datum.a*PI/180)", "as": "y"}], "mark": {"type": "line", "color": "#ff0000", "strokeWidth": 1.4}, "encoding": {"order": {"field": "a", "type": "quantitative"}}},
  {"data": {"name": "lab"}, "transform": [{"calculate": "1.14+0.08*abs(sin(datum.a*PI/180))", "as": "r"}, {"calculate": "datum.r*sin(datum.a*PI/180)", "as": "x"}, {"calculate": "datum.r*cos(datum.a*PI/180)", "as": "y"}], "mark": {"type": "text", "font": "Liberation Sans", "fontSize": 14, "color": "#000000", "baseline": "middle", "dy": -4}, "encoding": {"text": {"field": "a", "type": "quantitative", "format": "d"}}}
 ]},
{"width": 247, "height": 209,
 "encoding": {"x": {"field": "x", "type": "quantitative", "axis": null, "scale": {"domain": [-1.8938, 1.3057], "nice": false, "zero": false}},
              "y": {"field": "y", "type": "quantitative", "axis": null, "scale": {"domain": [-1.2176, 1.4113], "nice": false, "zero": false}}},
 "layer": [
  {"data": {"name": "circ"}, "transform": [{"calculate": "[-35, -30, -25, -20, -15, -10, -5]", "as": "lv"}, {"flatten": ["lv"]}, {"calculate": "(datum.lv+40)/40*sin(datum.a*PI/180)", "as": "x"}, {"calculate": "(datum.lv+40)/40*cos(datum.a*PI/180)", "as": "y"}], "mark": {"type": "line", "color": "#dcdcdc", "strokeWidth": 0.8}, "encoding": {"detail": {"field": "lv", "type": "nominal"}, "order": {"field": "a", "type": "quantitative"}}},
  {"data": {"name": "spm"}, "transform": [{"calculate": "0.125*sin(datum.a*PI/180)", "as": "x"}, {"calculate": "0.125*cos(datum.a*PI/180)", "as": "y"}, {"calculate": "sin(datum.a*PI/180)", "as": "x2"}, {"calculate": "cos(datum.a*PI/180)", "as": "y2"}], "mark": {"type": "rule", "color": "#dcdcdc", "strokeWidth": 0.8}, "encoding": {"x2": {"field": "x2"}, "y2": {"field": "y2"}}},
  {"data": {"name": "circ"}, "transform": [{"calculate": "sin(datum.a*PI/180)", "as": "x"}, {"calculate": "cos(datum.a*PI/180)", "as": "y"}], "mark": {"type": "line", "color": "#000000", "strokeWidth": 1.5}, "encoding": {"order": {"field": "a", "type": "quantitative"}}},
  {"data": {"name": "lab"}, "transform": [{"calculate": "0.96*sin(datum.a*PI/180)", "as": "x"}, {"calculate": "0.96*cos(datum.a*PI/180)", "as": "y"}, {"calculate": "sin(datum.a*PI/180)", "as": "x2"}, {"calculate": "cos(datum.a*PI/180)", "as": "y2"}], "mark": {"type": "rule", "color": "#000000", "strokeWidth": 1}, "encoding": {"x2": {"field": "x2"}, "y2": {"field": "y2"}}},
  {"data": {"name": "m30"}, "transform": [{"calculate": "(datum.g+40)/40", "as": "r"}, {"calculate": "datum.r*sin(datum.a*PI/180)", "as": "x"}, {"calculate": "datum.r*cos(datum.a*PI/180)", "as": "y"}], "mark": {"type": "line", "color": "#ff0000", "strokeWidth": 1.4}, "encoding": {"order": {"field": "a", "type": "quantitative"}}},
  {"data": {"name": "lab"}, "transform": [{"calculate": "1.14+0.08*abs(sin(datum.a*PI/180))", "as": "r"}, {"calculate": "datum.r*sin(datum.a*PI/180)", "as": "x"}, {"calculate": "datum.r*cos(datum.a*PI/180)", "as": "y"}], "mark": {"type": "text", "font": "Liberation Sans", "fontSize": 14, "color": "#000000", "baseline": "middle", "dy": -4}, "encoding": {"text": {"field": "a", "type": "quantitative", "format": "d"}}}
 ]}
]
}
